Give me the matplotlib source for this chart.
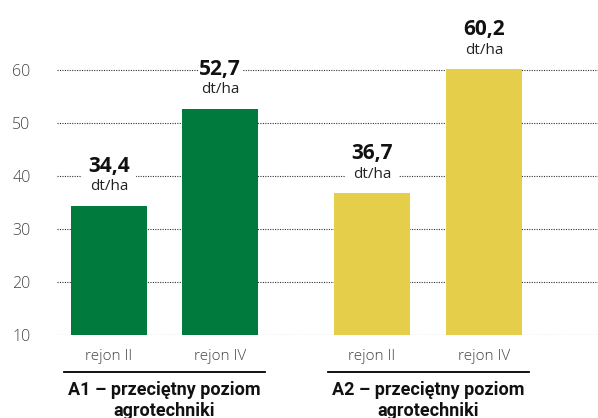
import matplotlib
matplotlib.use("Agg")
import matplotlib.pyplot as plt
import matplotlib.transforms as mtransforms

# ---- data ----
categories = ["rejon II", "rejon IV", "rejon II", "rejon IV"]
values = [34.4, 52.7, 36.7, 60.2]
value_labels = ["34,4", "52,7", "36,7", "60,2"]
unit_label = "dt/ha"
groups = ["A1 – przeciętny poziom\nagrotechniki", "A2 – przeciętny poziom\nagrotechniki"]
y_ticks = [10, 20, 30, 40, 50, 60]

# ---- style / layout ----
positions = [0, 1, 2.37, 3.38]
group_members = [(0, 1), (2, 3)]
colors = ["#007A3D", "#007A3D", "#E5CE4A", "#E5CE4A"]
baseline = 10
bar_width = 0.685

fig = plt.figure(figsize=(5.98, 4.18), dpi=100)
ax = fig.add_axes([57 / 598, 83 / 418, 1 - 57 / 598, 315 / 418])

bars = ax.bar(positions, [v - baseline for v in values], bottom=baseline,
              width=bar_width, color=colors, zorder=2)

ax.set_xlim(-0.468, 4.405)
ax.set_ylim(baseline, 69.43)
ax.set_yticks(y_ticks)
ax.set_yticklabels([str(t) for t in y_ticks])
ax.set_xticks(positions)
ax.set_xticklabels(categories)

ax.yaxis.grid(True, linestyle=(0, (1, 1.2)), color="#333333", linewidth=0.8, zorder=0)
ax.set_axisbelow(True)
for s in ax.spines.values():
    s.set_visible(False)
ax.tick_params(axis="both", length=0)
ax.tick_params(axis="y", pad=19, labelsize=11.5, labelcolor="#444444")
ax.tick_params(axis="x", pad=10, labelsize=11, labelcolor="#444444")
for lab in ax.get_yticklabels() + ax.get_xticklabels():
    lab.set_family("Open Sans")
    lab.set_fontweight("light")

unit_bbox = dict(boxstyle="square,pad=0.5", fc="white", ec="none")
num_bbox = dict(boxstyle="square,pad=0.05", fc="white", ec="none")
for x, v, lbl in zip(positions, values, value_labels):
    ax.annotate(unit_label, xy=(x, v), xytext=(0, 11), textcoords="offset points",
                ha="center", va="baseline", fontsize=11, family="Open Sans",
                color="#222222", bbox=unit_bbox, zorder=5, annotation_clip=False)
    ax.annotate(lbl, xy=(x, v), xytext=(0, 24.5), textcoords="offset points",
                ha="center", va="baseline", fontsize=15, family="Open Sans",
                fontweight="bold", color="#111111", bbox=num_bbox, zorder=6,
                annotation_clip=False)

trans = mtransforms.blended_transform_factory(ax.transData, ax.transAxes)
for (i, j), g in zip(group_members, groups):
    c = (positions[i] + positions[j]) / 2
    ax.plot([c - 0.905, c + 0.905], [-0.1165, -0.1165], transform=trans,
            color="black", linewidth=1.3, clip_on=False)
    ax.text(c, -0.146, g, transform=trans, ha="center", va="top",
            fontsize=13, family="Roboto", fontweight="bold", color="#111111",
            linespacing=1.2)

fig.savefig("out.png", dpi=100)
